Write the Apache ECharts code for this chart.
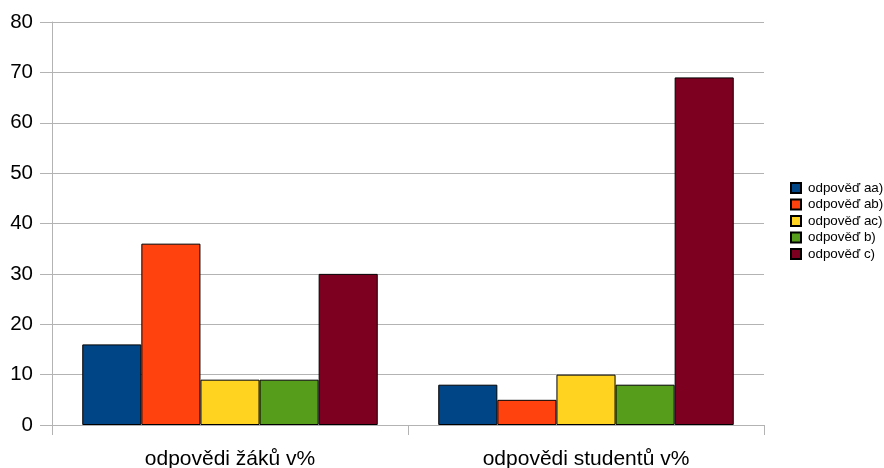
<!DOCTYPE html>
<html><head><meta charset="utf-8">
<script src="https://cdn.jsdelivr.net/npm/echarts@6/dist/echarts.min.js"></script>
<style>html,body{margin:0;padding:0;background:#fff}#c{width:884px;height:468px}</style>
</head><body><div id="c"></div>
<script>
const categories = ['odpovědi žáků v%', 'odpovědi studentů v%'];
const seriesNames = ['odpověď aa)', 'odpověď ab)', 'odpověď ac)', 'odpověď b)', 'odpověď c)'];
const valuesAA = [16, 8];
const valuesAB = [36, 5];
const valuesAC = [9, 10];
const valuesB = [9, 8];
const valuesC = [30, 69];
const colors = ['#004586', '#ff420e', '#ffd320', '#579d1c', '#7e0021'];
const allValues = [valuesAA, valuesAB, valuesAC, valuesB, valuesC];

const chart = echarts.init(document.getElementById('c'), null, {renderer: 'canvas'});
chart.setOption({
  animation: false,
  textStyle: {fontFamily: 'Liberation Sans, Arial, sans-serif'},
  grid: {left: 52, right: 120, top: 22, bottom: 43, containLabel: false, outerBoundsMode: 'none'},
  legend: {
    orient: 'vertical', left: 790, top: 181.5, padding: 0,
    itemWidth: 10, itemHeight: 10, itemGap: 3.5, icon: 'rect',
    textStyle: {fontSize: 13.4, lineHeight: 13, color: '#000', padding: [0, 0, 0, 2]},
    data: seriesNames
  },
  xAxis: {
    type: 'category', data: categories,
    axisLine: {show: true, lineStyle: {color: '#b3b3b3', width: 1}},
    axisTick: {show: true, alignWithLabel: false, length: 10, lineStyle: {color: '#b3b3b3'}},
    axisLabel: {fontSize: 21, color: '#000', margin: 24}
  },
  yAxis: {
    type: 'value', min: 0, max: 80, interval: 10,
    axisLine: {show: true, lineStyle: {color: '#b3b3b3'}},
    axisTick: {show: true, length: 12, lineStyle: {color: '#b3b3b3'}},
    axisLabel: {fontSize: 20.5, color: '#000', margin: 19},
    splitLine: {lineStyle: {color: '#b3b3b3'}}
  },
  series: seriesNames.map((n, i) => ({
    name: n, type: 'bar', data: allValues[i],
    barGap: '0%', barCategoryGap: '17%',
    itemStyle: {color: colors[i], borderColor: '#000', borderWidth: 1}
  }))
});
</script></body></html>
